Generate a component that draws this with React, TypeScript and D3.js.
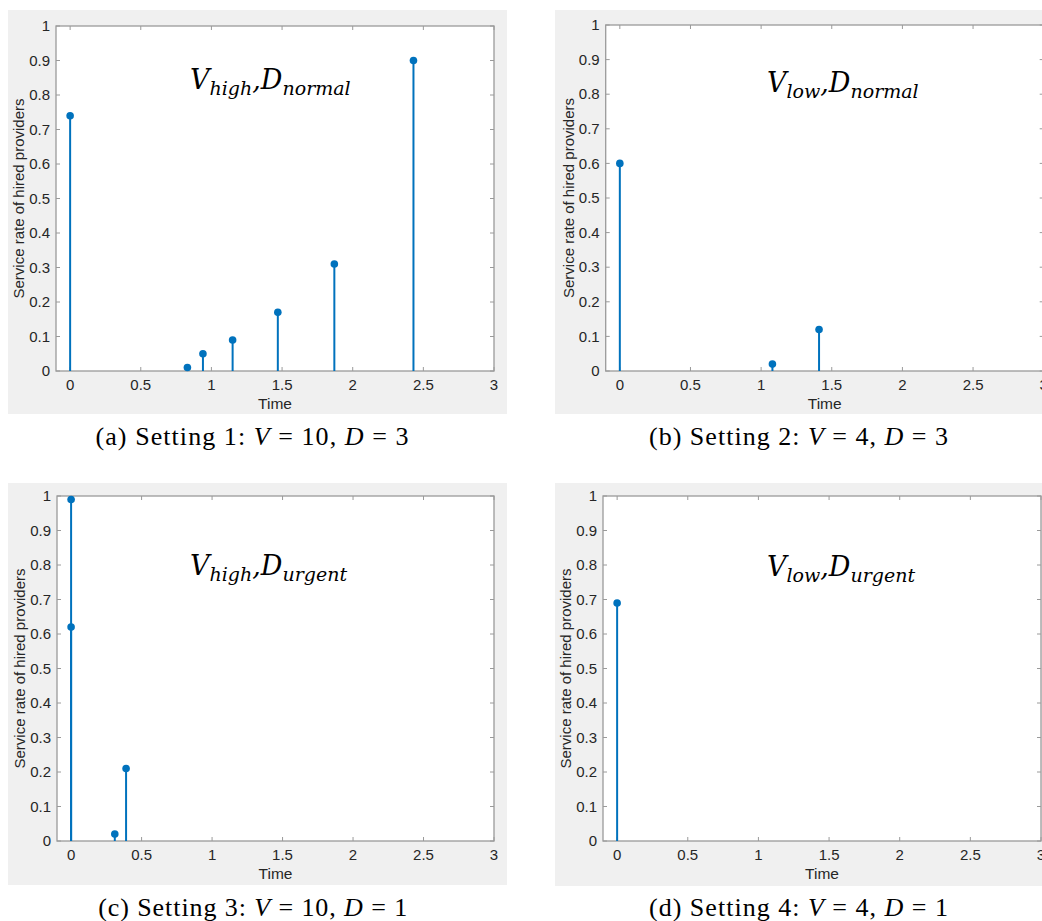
import React from "react";
import * as d3 from "d3";

// stem data
const timesA = [0, 0.83, 0.94, 1.15, 1.47, 1.87, 2.43];
const ratesA = [0.74, 0.01, 0.05, 0.09, 0.17, 0.31, 0.9];
const timesB = [0, 1.08, 1.41];
const ratesB = [0.6, 0.02, 0.12];
const timesC = [0, 0, 0.31, 0.39];
const ratesC = [0.99, 0.62, 0.02, 0.21];
const timesD = [0];
const ratesD = [0.69];

const xTicks = [0, 0.5, 1, 1.5, 2, 2.5, 3];
const yTicks = [0, 0.1, 0.2, 0.3, 0.4, 0.5, 0.6, 0.7, 0.8, 0.9, 1];
const xLabel = "Time";
const yLabel = "Service rate of hired providers";

const panels = [
  {
    key: "a", times: timesA, rates: ratesA,
    bg: [8, 10, 499, 404], plot: [56, 26, 438, 345],
    vSub: "high", dSub: "normal", ann: [190, 89],
    cap: ["(a) Setting 1: ", "10", "3"], capPos: [252, 445], capW: 313,
  },
  {
    key: "b", times: timesB, rates: ratesB,
    bg: [555, 10, 500, 404], plot: [605.7, 25, 438, 346],
    vSub: "low", dSub: "normal", ann: [767, 92],
    cap: ["(b) Setting 2: ", "4", "3"], capPos: [798.5, 445], capW: 299,
  },
  {
    key: "c", times: timesC, rates: ratesC,
    bg: [8, 483, 499, 402], plot: [57, 496, 437, 345],
    vSub: "high", dSub: "urgent", ann: [190, 575],
    cap: ["(c) Setting 3: ", "10", "1"], capPos: [252.7, 916], capW: 309,
  },
  {
    key: "d", times: timesD, rates: ratesD,
    bg: [555, 483, 500, 403], plot: [603, 496, 438, 345],
    vSub: "low", dSub: "urgent", ann: [767, 576],
    cap: ["(d) Setting 4: ", "4", "1"], capPos: [798.5, 916], capW: 299,
  },
];

const blue = "#0072BD";
const axisColor = "#9a9a9a";
const textColor = "#262626";
const sans = "'Liberation Sans', Arial, sans-serif";

function Panel({ p }: { p: (typeof panels)[number] }) {
  const [px, py, pw, ph] = p.plot;
  const x = d3.scaleLinear().domain([-0.1, 3]).range([px, px + pw]);
  const y = d3.scaleLinear().domain([0, 1]).range([py + ph, py]);
  const tl = 4;
  return (
    <g>
      <rect x={p.bg[0]} y={p.bg[1]} width={p.bg[2]} height={p.bg[3]} fill="#f0f0f0" />
      <rect x={px} y={py} width={pw} height={ph} fill="#fff" />
      {/* ticks on all four sides, pointing inward */}
      <g stroke={axisColor} strokeWidth={1}>
        {xTicks.map((t) => (
          <g key={"x" + t}>
            <line x1={x(t)} x2={x(t)} y1={py + ph} y2={py + ph - tl} />
            <line x1={x(t)} x2={x(t)} y1={py} y2={py + tl} />
          </g>
        ))}
        {yTicks.map((t) => (
          <g key={"y" + t}>
            <line x1={px} x2={px + tl} y1={y(t)} y2={y(t)} />
            <line x1={px + pw} x2={px + pw - tl} y1={y(t)} y2={y(t)} />
          </g>
        ))}
      </g>
      <rect x={px} y={py} width={pw} height={ph} fill="none" stroke={axisColor} strokeWidth={1.3} />
      <g fontFamily={sans} fontSize={15} fill={textColor}>
        {xTicks.map((t) => (
          <text key={"xl" + t} x={x(t)} y={py + ph + 19} textAnchor="middle">
            {d3.format("~g")(t)}
          </text>
        ))}
        {yTicks.map((t) => (
          <text key={"yl" + t} x={px - 6} y={y(t)} dy="0.35em" textAnchor="end">
            {d3.format("~g")(t)}
          </text>
        ))}
        <text x={px + pw / 2} y={py + ph + 38} textAnchor="middle" fontSize={15.5}>
          {xLabel}
        </text>
        <text
          transform={`translate(${px - 32},${py + ph / 2}) rotate(-90)`}
          textAnchor="middle"
          fontSize={15}
        >
          {yLabel}
        </text>
      </g>
      {p.times.map((t, i) => (
        <g key={"s" + i}>
          <line x1={x(t)} x2={x(t)} y1={y(0)} y2={y(p.rates[i])} stroke={blue} strokeWidth={2} />
          <circle cx={x(t)} cy={y(p.rates[i])} r={3.8} fill={blue} />
        </g>
      ))}
      <text
        x={p.ann[0]}
        y={p.ann[1]}
        fontFamily="'DejaVu Serif', serif"
        fontStyle="italic"
        fontSize={27}
        fill="#000"
      >
        V<tspan fontSize={19} dy={6}>{p.vSub}</tspan>
        <tspan dy={-6}>,D</tspan>
        <tspan fontSize={19} dy={6}>{p.dSub}</tspan>
      </text>
      <text
        x={p.capPos[0] - p.capW / 2}
        y={p.capPos[1]}
        textLength={p.capW}
        lengthAdjust="spacing"
        fontFamily="'Liberation Serif', 'Times New Roman', serif"
        fontSize={26}
        fill="#000"
      >
        {p.cap[0]}
        <tspan fontStyle="italic">V</tspan>
        {" = " + p.cap[1] + ", "}
        <tspan fontStyle="italic">D</tspan>
        {" = " + p.cap[2]}
      </text>
    </g>
  );
}

export default function App() {
  return (
    <svg
      width={1042}
      height={921}
      style={{ position: "absolute", left: 0, top: 0, background: "#fff" }}
    >
      {panels.map((p) => (
        <Panel key={p.key} p={p} />
      ))}
    </svg>
  );
}
